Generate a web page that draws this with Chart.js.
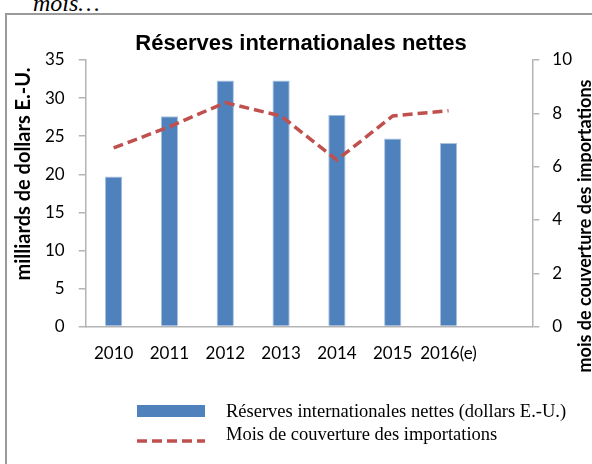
<!DOCTYPE html>
<html lang="fr">
<head>
  <meta charset="UTF-8">
  <title>Réserves internationales nettes</title>
  <style>
    html, body {
      margin: 0;
      padding: 0;
      background: #fff;
      overflow: hidden;
    }
    body {
      width: 592px;
      height: 464px;
      position: relative;
    }
    #cadre {
      position: absolute;
      left: 5px;
      top: 13px;
      width: 700px;
      height: 600px;
      border: 2px solid #9a9a9a;
      box-sizing: border-box;
    }
    #note {
      position: absolute;
      left: 33px;
      top: -9px;
      font: italic 24px/24px "Liberation Serif", "Times New Roman", serif;
      color: #000;
    }
    #zone {
      position: absolute;
      left: 0;
      top: 0;
      width: 592px;
      height: 464px;
    }
  </style>
</head>
<body>
  <div id="cadre"></div>
  <div id="note">mois…</div>
  <div id="zone">
    <canvas id="graphique"></canvas>
  </div>

  <script src="https://cdn.jsdelivr.net/npm/chart.js"></script>
  <script>
    // données
    const annees = ['2010', '2011', '2012', '2013', '2014', '2015', '2016(e)', ''];
    const reserves = [19.7, 27.6, 32.3, 32.3, 27.8, 24.7, 24.1, null];        // milliards de dollars E.-U.
    const moisCouverture = [6.7, 7.5, 8.4, 7.9, 6.25, 7.9, 8.1, null];        // mois d'importations

    const titre = 'Réserves internationales nettes';
    const titreGauche = 'milliards de dollars E.-U.';
    const titreDroite = 'mois de couverture des importations';
    const legendeBarres = 'Réserves internationales nettes (dollars E.-U.)';
    const legendeLigne = 'Mois de couverture des importations';

    const echelleGauche = { min: 0, max: 35, pas: 5 };
    const echelleDroite = { min: 0, max: 10, pas: 2 };

    const bleu = '#4F81BD';
    const rouge = '#C0504D';
    const gris = '#b4b4b4';
    const policeTicks = { family: 'Lato', size: 17 };

    // titre, titres des axes et légende, dessinés à la main
    const habillage = {
      id: 'habillage',
      afterDraw(chart) {
        const c = chart.ctx;
        c.save();
        c.fillStyle = '#000';
        c.textAlign = 'center';
        c.textBaseline = 'middle';
        c.font = 'bold 22px "Liberation Sans"';
        c.fillText(titre, 301, 44);

        c.textBaseline = 'alphabetic';
        c.font = 'bold 20px Lato';
        c.save();
        c.translate(30, 174);
        c.rotate(-Math.PI / 2);
        c.fillText(titreGauche, 0, 0);
        c.restore();

        c.font = 'bold 18px Lato';
        c.save();
        c.translate(591, 226);
        c.rotate(-Math.PI / 2);
        c.fillText(titreDroite, 0, 0);
        c.restore();

        // légende
        c.fillStyle = bleu;
        c.fillRect(137, 405, 68, 12);

        c.strokeStyle = rouge;
        c.lineWidth = 3.5;
        c.setLineDash([10, 5]);
        c.beginPath();
        c.moveTo(137, 441);
        c.lineTo(205, 441);
        c.stroke();
        c.setLineDash([]);

        c.fillStyle = '#000';
        c.font = '18.5px "Liberation Serif"';
        c.textAlign = 'left';
        c.textBaseline = 'middle';
        c.fillText(legendeBarres, 226, 412);
        c.fillText(legendeLigne, 226, 435);
        c.restore();
      }
    };

    window.onload = function() {
      const ctx = document.getElementById('graphique').getContext('2d');

      new Chart(ctx, {
        type: 'bar',
        data: {
          labels: annees,
          datasets: [
            {
              type: 'line',
              label: legendeLigne,
              data: moisCouverture,
              yAxisID: 'y1',
              borderColor: rouge,
              borderWidth: 3.5,
              borderDash: [10, 5],
              pointRadius: 0,
              fill: false,
              tension: 0,
              order: 0
            },
            {
              label: legendeBarres,
              data: reserves,
              yAxisID: 'y',
              backgroundColor: bleu,
              borderColor: '#a9c2e0',
              borderWidth: 1,
              categoryPercentage: 1,
              barPercentage: 0.31,
              order: 1
            }
          ]
        },
        options: {
          responsive: true,
          maintainAspectRatio: false,
          animation: false,
          layout: {
            padding: { top: 60, left: 31, right: 7, bottom: 84 }
          },
          plugins: {
            legend: { display: false },
            tooltip: { enabled: false },
            title: { display: false }
          },
          scales: {
            x: {
              grid: { display: false, drawTicks: false },
              border: { color: gris, width: 1.5 },
              ticks: {
                color: '#000',
                font: policeTicks,
                padding: 16.5,
                maxRotation: 0,
                autoSkip: false
              }
            },
            y: {
              position: 'left',
              min: echelleGauche.min,
              max: echelleGauche.max,
              grid: { drawOnChartArea: false, color: gris, tickLength: 7, lineWidth: 1.5 },
              border: { color: gris, width: 1.5 },
              ticks: {
                stepSize: echelleGauche.pas,
                color: '#000',
                font: policeTicks,
                padding: 14
              }
            },
            y1: {
              position: 'right',
              min: echelleDroite.min,
              max: echelleDroite.max,
              grid: { drawOnChartArea: false, color: gris, tickLength: 7, lineWidth: 1.5 },
              border: { color: gris, width: 1.5 },
              ticks: {
                stepSize: echelleDroite.pas,
                color: '#000',
                font: policeTicks,
                padding: 13
              }
            }
          }
        },
        plugins: [habillage]
      });
    };
  </script>
</body>
</html>
